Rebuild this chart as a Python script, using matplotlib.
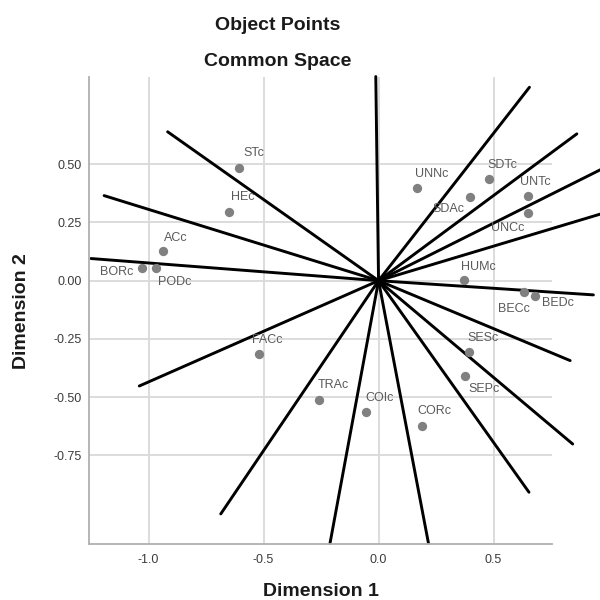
import matplotlib
matplotlib.use("Agg")
import matplotlib.pyplot as plt

plt.rcParams['font.family'] = ['Liberation Sans', 'DejaVu Sans']
plt.rcParams['axes.unicode_minus'] = False

# ---- data ----
labels = ["STc", "HEc", "ACc", "BORc", "PODc", "UNNc", "SDTc", "SDAc", "UNTc",
          "UNCc", "HUMc", "BECc", "BEDc", "FACc", "TRAc", "SESc", "SEPc",
          "COIc", "CORc"]
dim1 = [-0.605, -0.650, -0.937, -1.027, -0.967, 0.169, 0.480, 0.398, 0.651,
        0.651, 0.372, 0.634, 0.680, -0.521, -0.260, 0.392, 0.377, -0.056, 0.188]
dim2 = [0.485, 0.294, 0.127, 0.053, 0.053, 0.397, 0.436, 0.361, 0.365,
        0.292, 0.003, -0.047, -0.064, -0.316, -0.512, -0.305, -0.409, -0.565, -0.622]

# vector (line) end points, drawn from the origin
vec_x = [-0.012, 0.656, 0.862, 1.10, 1.10, 0.934, 0.833, 0.844, 0.654,
         0.217, -0.211, -0.686, -1.040, -1.250, -1.193, -0.917]
vec_y = [0.876, 0.830, 0.630, 0.543, 0.326, -0.061, -0.343, -0.701, -0.908,
         -1.127, -1.127, -1.001, -0.452, 0.095, 0.365, 0.639]

xticks = [-1.0, -0.5, 0.0, 0.5]
xticklabels = ["-1.0", "-0.5", "0.0", "0.5"]
yticks = [0.50, 0.25, 0.00, -0.25, -0.50, -0.75]
yticklabels = ["0.50", "0.25", "0.00", "-0.25", "-0.50", "-0.75"]

# label offsets (pixels, label centre relative to point; +y = up)
label_offsets = {
    "STc": (14, 15), "HEc": (14, 15), "ACc": (13, 13), "BORc": (-26, -4),
    "PODc": (19, -14), "UNNc": (14, 14), "SDTc": (13, 14), "SDAc": (-22, -12),
    "UNTc": (7, 14), "UNCc": (-21, -15), "HUMc": (14, 13), "BECc": (-10, -17),
    "BEDc": (23, -7), "FACc": (9, 14), "TRAc": (15, 15), "SESc": (14, 14),
    "SEPc": (19, -13), "COIc": (14, 14), "CORc": (13, 15),
}

W = H = 600
fig = plt.figure(figsize=(6, 6), dpi=100)
l, r, b, t = 88.7, 552, 544, 77
ax = fig.add_axes([l / W, 1 - b / H, (r - l) / W, (b - t) / H])
ax.set_xlim(-1.26, 0.754)
ax.set_ylim(-1.13, 0.874)

grid_c = "#d9d9d9"
for xv in xticks:
    ax.axvline(xv, color=grid_c, lw=1.3, zorder=0)
for yv in yticks:
    ax.axhline(yv, color=grid_c, lw=1.3, zorder=0)

for ex, ey in zip(vec_x, vec_y):
    ax.plot([0, ex], [0, ey], color="black", lw=2.1, clip_on=False, zorder=2,
            solid_capstyle="round")

ax.scatter(dim1, dim2, s=45, color="#808080", zorder=3, linewidths=0)
for name, xv, yv in zip(labels, dim1, dim2):
    dx, dy = label_offsets[name]
    ax.annotate(name, (xv, yv), xytext=(dx, dy), textcoords="offset pixels",
                ha="center", va="center", fontsize=9, color="#5a5a5a", zorder=4)

ax.set_xticks(xticks)
ax.set_xticklabels(xticklabels)
ax.set_yticks(yticks)
ax.set_yticklabels(yticklabels)
ax.tick_params(length=0, labelsize=9, labelcolor="#3c3c3c")
ax.tick_params(axis="x", pad=7)
ax.tick_params(axis="y", pad=5)
for side in ["top", "right"]:
    ax.spines[side].set_visible(False)
for side in ["left", "bottom"]:
    ax.spines[side].set_color("#b0b0b0")
    ax.spines[side].set_linewidth(1.3)

title_kw = dict(ha="center", va="center", fontsize=14, fontweight="bold",
                color="#1a1a1a")
fig.text(278 / W, 1 - 25 / H, "Object Points", **title_kw)
fig.text(278 / W, 1 - 62 / H, "Common Space", **title_kw)
fig.text(321 / W, 1 - 591 / H, "Dimension 1", **title_kw)
fig.text(21 / W, 1 - 311 / H, "Dimension 2", rotation=90, **title_kw)

fig.savefig("out.png", dpi=100)
